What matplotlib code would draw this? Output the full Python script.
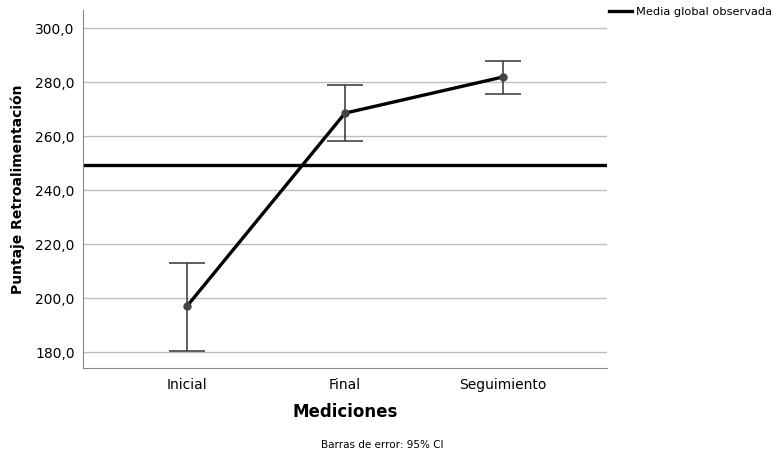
import numpy as np
import matplotlib
matplotlib.use("Agg")
import matplotlib.pyplot as plt

# data
categories = ["Inicial", "Final", "Seguimiento"]
means = [197.0, 268.5, 281.9]
ci_low = [180.4, 258.1, 275.6]
ci_high = [213.0, 278.9, 287.8]
grand_mean = 249.3
yticks = [180, 200, 220, 240, 260, 280, 300]

plt.rcParams['font.family'] = ['DejaVu Sans']

fig = plt.figure(figsize=(7.81, 4.51), dpi=100)
ax = fig.add_axes([83/781, 83/451, 524/781, 358/451])

x = np.arange(len(categories))
means = np.array(means)
yerr = np.vstack([means - np.array(ci_low), np.array(ci_high) - means])

ax.set_axisbelow(True)
ax.yaxis.grid(True, color='#bdbdbd', linewidth=1.0)
ax.axhline(grand_mean, color='black', linewidth=2.4, label='Media global observada')
ax.errorbar(x, means, yerr=yerr, fmt='none', ecolor='#333333', elinewidth=1.1,
            capsize=13, capthick=1.1)
ax.plot(x, means, color='black', linewidth=2.4, zorder=3)
ax.plot(x, means, 'o', color='#444444', markersize=5, zorder=4)

ax.set_xlim(-104/158, 2 + 104/158)
ax.set_ylim(174.1, 306.7)
ax.set_yticks(yticks)
ax.set_yticklabels([f"{v:.1f}".replace('.', ',') for v in yticks], fontsize=10)
ax.set_xticks(x)
ax.set_xticklabels(categories, fontsize=10)
ax.tick_params(length=0, pad=6)
ax.tick_params(axis='x', pad=7)

for s in ['top', 'right']:
    ax.spines[s].set_visible(False)
for s in ['left', 'bottom']:
    ax.spines[s].set_color('#888888')

ax.set_ylabel('Puntaje Retroalimentación', fontsize=10, fontweight='bold', labelpad=7)
ax.set_xlabel('Mediciones', fontsize=12, fontweight='bold', labelpad=8)
fig.text(382/781, 1 - 445/451, 'Barras de error: 95% CI', fontsize=7.5,
         ha='center', va='center')

ax.legend(loc='upper left', bbox_to_anchor=(1.004, 1.008), frameon=False,
          fontsize=8.2, handlelength=2.0, handletextpad=0.35, borderaxespad=0,
          borderpad=0)

fig.savefig('out.png', dpi=100)
